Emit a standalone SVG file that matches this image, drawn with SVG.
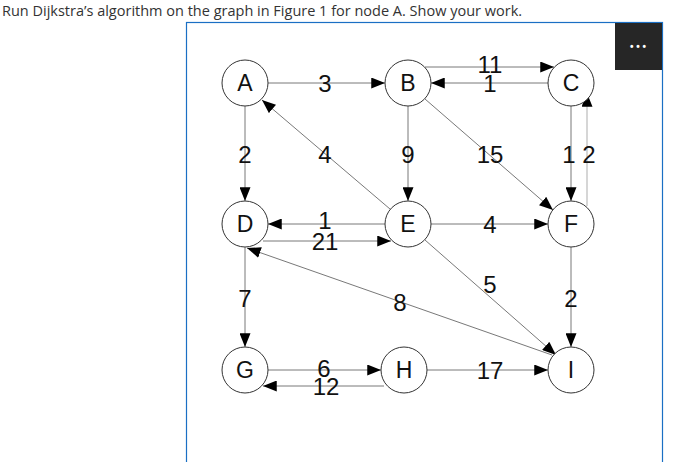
<svg xmlns="http://www.w3.org/2000/svg" width="685" height="462" viewBox="0 0 685 462">
<style>
.n circle{fill:#fff;stroke:#333;stroke-width:1}
.n text{font-family:"Liberation Sans",Arial,sans-serif;font-size:23px;fill:#111;text-anchor:middle}
.e line{stroke:#555;stroke-width:0.8;marker-end:url(#ah)}
.lb{font-family:"Liberation Sans",Arial,sans-serif;font-size:24px;fill:#111;text-anchor:middle}
</style>
<defs><marker id="ah" viewBox="0 0 10 8" refX="10" refY="4" markerWidth="14" markerHeight="11" markerUnits="userSpaceOnUse" orient="auto"><path d="M0,0L10,4L0,8z" fill="#000"/></marker></defs>
<rect width="685" height="462" fill="#fff"/>
<text x="2" y="16" font-family="Open Sans,sans-serif" font-size="14.5" fill="#333">Run Dijkstra’s algorithm on the graph in Figure 1 for node A. Show your work.</text>
<rect x="186.5" y="22.5" width="476" height="445" fill="#fff" stroke="#1a6fc4" stroke-width="1.2"/>
<rect x="615" y="23" width="47" height="47" fill="#262626"/>
<text x="638" y="50" font-family="Liberation Sans,sans-serif" font-size="10" font-weight="bold" fill="#fff" text-anchor="middle">• • •</text>
<g id="edges" class="e">
<line x1="268" y1="83" x2="385" y2="83"/>
<line x1="425" y1="67" x2="554" y2="67"/>
<line x1="548" y1="83" x2="431" y2="83"/>
<line x1="245" y1="106" x2="245" y2="201"/>
<line x1="390" y1="209" x2="262" y2="100"/>
<line x1="408" y1="106" x2="408" y2="201"/>
<line x1="425" y1="99" x2="553" y2="210"/>
<line x1="571" y1="106" x2="571" y2="201"/>
<line x1="587" y1="206" x2="587" y2="93" style="stroke:#bbb;stroke-width:1.2"/>
<line x1="385" y1="224" x2="268" y2="224"/>
<line x1="263" y1="241" x2="391" y2="241"/>
<line x1="431" y1="224" x2="548" y2="224"/>
<line x1="425" y1="240" x2="556" y2="355"/>
<line x1="552" y1="355" x2="247" y2="248"/>
<line x1="571" y1="247" x2="571" y2="347"/>
<line x1="245" y1="247" x2="245" y2="347"/>
<line x1="268" y1="370" x2="381" y2="370"/>
<line x1="384" y1="386" x2="263" y2="386"/>
<line x1="427" y1="370" x2="548" y2="370"/>
</g>
<g id="labels">
<text class="lb" x="325" y="92">3</text>
<text class="lb" x="490" y="73">11</text>
<text class="lb" x="490" y="92">1</text>
<text class="lb" x="245" y="163">2</text>
<text class="lb" x="325" y="163">4</text>
<text class="lb" x="408" y="163">9</text>
<text class="lb" x="490" y="163">15</text>
<text class="lb" x="579" y="163" xml:space="preserve">1 2</text>
<text class="lb" x="325" y="229">1</text>
<text class="lb" x="325" y="250">21</text>
<text class="lb" x="490" y="233">4</text>
<text class="lb" x="490" y="293">5</text>
<text class="lb" x="400" y="311">8</text>
<text class="lb" x="571" y="307">2</text>
<text class="lb" x="245" y="307">7</text>
<text class="lb" x="324" y="377">6</text>
<text class="lb" x="326" y="395">12</text>
<text class="lb" x="490" y="379">17</text>
</g>
<g id="A" class="n"><circle cx="245" cy="83" r="23"/><text x="245" y="91">A</text></g>
<g id="B" class="n"><circle cx="408" cy="83" r="23"/><text x="408" y="91">B</text></g>
<g id="C" class="n"><circle cx="571" cy="83" r="23"/><text x="571" y="91">C</text></g>
<g id="D" class="n"><circle cx="245" cy="224" r="23"/><text x="245" y="232">D</text></g>
<g id="E" class="n"><circle cx="408" cy="224" r="23"/><text x="408" y="232">E</text></g>
<g id="F" class="n"><circle cx="571" cy="224" r="23"/><text x="571" y="232">F</text></g>
<g id="G" class="n"><circle cx="245" cy="370" r="23"/><text x="245" y="378">G</text></g>
<g id="H" class="n"><circle cx="404" cy="370" r="23"/><text x="404" y="378">H</text></g>
<g id="I" class="n"><circle cx="571" cy="370" r="23"/><text x="571" y="378">I</text></g>
</svg>
